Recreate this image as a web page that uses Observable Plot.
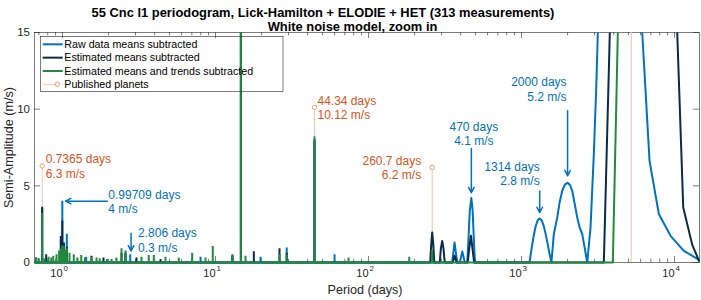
<!DOCTYPE html>
<html>
<head>
<meta charset="utf-8">
<script src="https://cdn.jsdelivr.net/npm/d3@7"></script>
<script src="https://cdn.jsdelivr.net/npm/@observablehq/plot@0.6"></script>
<style>
  html, body { margin: 0; padding: 0; background: #ffffff; }
  svg { display: block; }
</style>
</head>
<body>
<script>
// ---------------- DATA ----------------
const titleLines = ["55 Cnc l1 periodogram, Lick-Hamilton + ELODIE + HET (313 measurements)", "White noise model, zoom in"];
const xLabel = "Period (days)";
const yLabel = "Semi-Amplitude (m/s)";
const seriesNames = ["Raw data means subtracted", "Estimated means subtracted", "Estimated means and trends subtracted", "Published planets"];
const xMajorTicks = [1, 10, 100, 1000, 10000];
const yTicks = [0, 5, 10, 15];

// Raw data, means subtracted: continuous part of the periodogram
const rawPeriod = [0.656, 352, 365, 380, 395, 410, 426, 442, 451, 459, 470, 479, 487, 496,
  1128, 1163, 1199, 1236, 1274, 1314, 1354, 1395, 1438, 1483, 1528, 1568,
  1626, 1712, 1772, 1845, 1924, 2000, 2075, 2145, 2220, 2313, 2394, 2494, 2582, 2688,
  2825, 2968, 3078, 3154, 3600, 5200, 6150, 6864, 7897, 9417, 11503, 14560];
const rawAmp = [0, 0, 1.3, 0, 0, 0.72, 0, 0, 1.7, 3.4, 4.2, 3.4, 1.7, 0,
  0, 0.9, 1.7, 2.35, 2.75, 2.87, 2.75, 2.4, 1.85, 1.2, 0.5, 0,
  1.85, 2.93, 3.9, 4.68, 5.1, 5.2, 5.05, 4.68, 3.9, 2.93, 2.3, 1.85, 1.0, 0,
  2.28, 7.07, 11.4, 15, 35, 48, 15, 6.63, 3.16, 1.74, 0.76, 0.16];
// Raw data, means subtracted: narrow peaks
const rawSpikePeriod = [0.7365, 0.975, 0.99709, 1.02, 1.067, 1.428, 2.58, 2.77, 7.98, 12.9, 14.65, 19.7, 29.2, 44.34, 60];
const rawSpikeAmp = [3.5, 1.5, 4.0, 1.3, 1.85, 0.35, 0.75, 0.5, 0.35, 0.5, 40, 0.35, 0.95, 7.9, 0.5];

// Estimated means subtracted
const estPeriod = [0.656, 253, 257, 260.7, 265, 269, 292, 297, 303, 309, 315, 355, 365, 376,
  445, 455, 467, 478, 490, 3451, 3776, 5000, 10414, 11400, 13055, 14203, 14560];
const estAmp = [0, 0, 1.2, 1.96, 1.2, 0, 0, 0.9, 1.4, 0.9, 0, 0, 0.45, 0,
  0, 0.9, 1.74, 0.9, 0, 0, 15, 45, 15, 3.59, 1.15, 0.29, 0.05];
const estSpikePeriod = [0.673, 0.7365, 0.782, 0.975, 0.99709, 1.02, 1.067, 1.547, 1.853, 2.43, 2.58, 3.045, 4.37, 12.9, 14.65, 17.8, 26.2, 29.2, 44.34];
const estSpikeAmp = [0.3, 3.6, 0.5, 1.7, 2.7, 1.2, 1.0, 0.4, 0.3, 0.6, 0.55, 0.3, 0.2, 0.4, 40, 0.7, 0.9, 0.6, 8.0];

// Estimated means and trends subtracted
const trendPeriod = [0.656, 3952, 4260, 5000, 14560];
const trendAmp = [0, 0, 15, 60, 60];
const trendSpikePeriod = [0.673, 0.70, 0.7365, 0.76, 0.81, 0.844, 0.87, 0.914, 0.95, 0.975, 0.99709, 1.02, 1.045, 1.067,
  1.111, 1.185, 1.25, 1.325, 1.40, 1.547, 1.668, 1.75, 1.95, 2.09, 2.25, 2.43, 2.58, 3.28, 3.66, 3.95, 4.71, 5.75,
  7.04, 8.6, 9.6, 12.9, 14.65, 15.7, 26.2, 29.2, 44.34, 74, 184.5, 260.7];
const trendSpikeAmp = [0.3, 0.25, 3.2, 0.25, 0.35, 0.3, 0.4, 0.5, 0.75, 0.9, 1.1, 1.0, 0.8, 0.9,
  0.6, 0.5, 0.3, 0.45, 0.3, 0.35, 0.3, 0.25, 0.2, 0.2, 0.3, 0.9, 0.6, 0.35, 0.45, 0.45, 0.35, 0.3,
  0.6, 0.3, 1.05, 0.45, 60, 0.4, 0.5, 0.5, 8.2, 0.3, 0.35, 0.8];

// Published planets
const planetPeriod = [0.7365, 14.651, 44.34, 260.7, 5218];
const planetAmp = [6.3, 71.8, 10.12, 6.2, 47.2];
const planetLabelled = [true, false, true, true, false];

// Annotated peaks (raw data)
const peakPeriod = [0.99709, 2.806, 470, 1314, 2000];
const peakAmp = [4, 0.3, 4.1, 2.8, 5.2];

// ---------------- LAYOUT / STYLE ----------------
const W = 701, H = 300;
const M = {left: 34, right: 2, top: 32, bottom: 38};
const FW = W - M.left - M.right;
const FH = H - M.top - M.bottom;
const xDomain = [0.656, 14560];
const PX_PER_DECADE = FW / Math.log10(xDomain[1] / xDomain[0]);
const C = {
  raw: "#0072BD", est: "#0b2a49", trend: "#218a3c",
  planetLine: "#f3c2ab", planetMarker: "#eb9b7b", planetText: "#D95319",
  axis: "#262626"
};
const FONT = "'Liberation Sans', Arial, Helvetica, sans-serif";

const rows = (ps, as) => ps.map((p, i) => ({p, a: as[i]}));
const raw = rows(rawPeriod, rawAmp), rawSp = rows(rawSpikePeriod, rawSpikeAmp);
const est = rows(estPeriod, estAmp), estSp = rows(estSpikePeriod, estSpikeAmp);
const trend = rows(trendPeriod, trendAmp), trendSp = rows(trendSpikePeriod, trendSpikeAmp);
const planets = rows(planetPeriod, planetAmp).map((d, i) => ({...d, lab: planetLabelled[i]}));
const peaks = rows(peakPeriod, peakAmp);

const minorTicks = [];
for (let e = -1; e <= 4; e++) for (let k = 2; k <= 9; k++) {
  const v = k * Math.pow(10, e);
  if (v >= xDomain[0] && v <= xDomain[1]) minorTicks.push(v);
}

// label placement of the annotations (pixel offsets from the peak)
const peakLayout = [
  {dx: 46, dy: 0, anchor: "start"},
  {dx: 7, dy: -18, anchor: "start"},
  {dx: 2.5, dy: -66, anchor: "middle"},
  {dx: 0, dy: -46, anchor: "end"},
  {dx: -1, dy: -94, anchor: "end"}
];
const planetLayout = {0: {dx: 3.5, anchor: "start"}, 2: {dx: 3, anchor: "start"}, 3: {dx: -11, anchor: "end"}};

const peakLabels = peaks.map((d, i) => ({...d, ...peakLayout[i], text: `${d.p} days\n${d.a} m/s`}));
const planetLabels = planets.map((d, i) => ({...d, ...(planetLayout[i] || {}), text: `${d.p} days\n${d.a} m/s`})).filter(d => d.lab);

// arrows: first is horizontal, others vertical (tail offsets in m/s, head inset in px)
const hArrow = [{x1: peaks[0].p * Math.pow(10, 45 / PX_PER_DECADE), x2: peaks[0].p, y1: peaks[0].a, y2: peaks[0].a}];
const vTail = [null, 1.61, 3.33, 1.87, 4.69];
const vArrows = peaks.slice(1).map((d, j) => ({x1: d.p, x2: d.p, y1: d.a + vTail[j + 1], y2: d.a}));

const textOpts = {fontSize: 12, lineHeight: 1.2, lineAnchor: "middle"};

const marks = [
  Plot.frame({stroke: C.axis, strokeWidth: 0.6}),
  Plot.tickX(xMajorTicks, {x: d => d, insetTop: FH - 6, stroke: C.axis, strokeWidth: 0.6}),
  Plot.tickX(xMajorTicks, {x: d => d, insetBottom: FH - 6, stroke: C.axis, strokeWidth: 0.6}),
  Plot.tickX(minorTicks, {x: d => d, insetTop: FH - 3.3, stroke: C.axis, strokeWidth: 0.6}),
  Plot.tickX(minorTicks, {x: d => d, insetBottom: FH - 3.3, stroke: C.axis, strokeWidth: 0.6}),
  Plot.tickY(yTicks, {y: d => d, insetRight: FW - 6, stroke: C.axis, strokeWidth: 0.6}),
  Plot.tickY(yTicks, {y: d => d, insetLeft: FW - 6, stroke: C.axis, strokeWidth: 0.6}),
  Plot.axisY(yTicks, {anchor: "left", tickSize: 0, tickPadding: 4.5, label: null, fontSize: 11.5, fill: C.axis}),
  Plot.text(xMajorTicks, {x: d => d, text: () => "10", frameAnchor: "bottom", textAnchor: "end", dy: 14.7, fontSize: 11, fill: C.axis}),
  Plot.text(xMajorTicks, {x: d => d, text: d => String(Math.round(Math.log10(d))), frameAnchor: "bottom", textAnchor: "start", dx: 1, dy: 8.5, fontSize: 8, fill: C.axis}),
  Plot.text([xLabel], {frameAnchor: "bottom", textAnchor: "middle", dx: -2, dy: 31, fontSize: 12.6, fill: C.axis}),
  Plot.text([yLabel], {frameAnchor: "left", textAnchor: "middle", rotate: -90, dx: -25.5, fontSize: 12.6, fill: C.axis}),
  Plot.text([titleLines[0]], {frameAnchor: "top", textAnchor: "middle", dx: -44, dy: -24.7, fontSize: 12.9, fontWeight: "bold", fill: "#000"}),
  Plot.text([titleLines[1]], {frameAnchor: "top", textAnchor: "middle", dx: -14.5, dy: -10.3, fontSize: 12.9, fontWeight: "bold", fill: "#000"}),

  // published planet stems (beneath the periodograms)
  Plot.ruleX(planets, {x: "p", y1: 0, y2: "a", stroke: C.planetLine, strokeWidth: 1}),

  // periodograms
  Plot.line(raw, {x: "p", y: "a", stroke: C.raw, strokeWidth: 2}),
  Plot.ruleX(rawSp, {x: "p", y1: 0, y2: "a", stroke: C.raw, strokeWidth: 2}),
  Plot.line(est, {x: "p", y: "a", stroke: C.est, strokeWidth: 2}),
  Plot.ruleX(estSp, {x: "p", y1: 0, y2: "a", stroke: C.est, strokeWidth: 2}),
  Plot.line(trend, {x: "p", y: "a", stroke: C.trend, strokeWidth: 2}),
  Plot.ruleX(trendSp, {x: "p", y1: 0, y2: "a", stroke: C.trend, strokeWidth: 2}),

  Plot.dot(planets, {x: "p", y: "a", r: 2.2, stroke: C.planetMarker, fill: "white", strokeWidth: 1}),

  // annotations
  Plot.arrow(hArrow, {x1: "x1", y1: "y1", x2: "x2", y2: "y2", insetEnd: 3.2, stroke: C.raw, strokeWidth: 1.5, headLength: 6, headAngle: 55}),
  Plot.arrow(vArrows, {x1: "x1", y1: "y1", x2: "x2", y2: "y2", insetEnd: 7, stroke: C.raw, strokeWidth: 1.5, headLength: 6, headAngle: 55}),
  ...peakLabels.map(d => Plot.text([d], {x: "p", y: "a", text: "text", dx: d.dx, dy: d.dy, textAnchor: d.anchor, fill: C.raw, ...textOpts})),
  ...planetLabels.map(d => Plot.text([d], {x: "p", y: "a", text: "text", dx: d.dx, dy: 0, textAnchor: d.anchor, fill: C.planetText, ...textOpts}))
];

const plot = Plot.plot({
  width: W, height: H,
  marginLeft: M.left, marginRight: M.right, marginTop: M.top, marginBottom: M.bottom,
  style: {fontFamily: FONT, fontSize: "11.5px", color: C.axis, background: "white", overflow: "visible"},
  x: {type: "log", domain: xDomain, axis: null},
  y: {domain: [0, 15]},
  marks
});
document.body.appendChild(plot);

// clip data marks to the axes box (slightly extended below so the zero line keeps its full width)
const svg = d3.select(plot);
svg.append("defs").append("clipPath").attr("id", "dataclip")
  .append("rect").attr("x", M.left).attr("y", M.top).attr("width", FW).attr("height", FH + 2.5);
svg.selectAll('g[aria-label="line"], g[aria-label="rule"], g[aria-label="dot"]').attr("clip-path", "url(#dataclip)");

// legend (box without fill: the 14.65-day peak shows through it as in the original)
const lg = svg.append("g").attr("font-family", FONT).attr("font-size", 10.7).attr("fill", "#000").attr("text-anchor", "start");
lg.append("rect").attr("x", 40.5).attr("y", 36.5).attr("width", 242.5).attr("height", 55)
  .attr("fill", "none").attr("stroke", C.axis).attr("stroke-width", 0.6);
const legendColors = [C.raw, C.est, C.trend, C.planetLine];
seriesNames.forEach((name, i) => {
  const y = 44.3 + i * 13.35;
  if (i < 3) {
    lg.append("line").attr("x1", 42.7).attr("x2", 62.7).attr("y1", y).attr("y2", y)
      .attr("stroke", legendColors[i]).attr("stroke-width", 2);
  } else {
    lg.append("line").attr("x1", 43.3).attr("x2", 57.3).attr("y1", y).attr("y2", y)
      .attr("stroke", C.planetLine).attr("stroke-width", 1);
    lg.append("circle").attr("cx", 57.3).attr("cy", y).attr("r", 2.2)
      .attr("fill", "white").attr("stroke", C.planetMarker).attr("stroke-width", 1);
  }
  lg.append("text").attr("x", 64.3).attr("y", y).attr("dy", "0.35em").attr("text-anchor", "start").text(name);
});
</script>
</body>
</html>
